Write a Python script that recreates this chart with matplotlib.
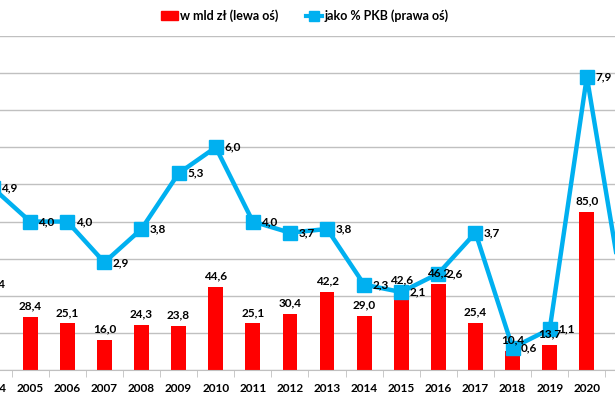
import numpy as np
import matplotlib
matplotlib.use("Agg")
import matplotlib.pyplot as plt
from matplotlib.lines import Line2D
from matplotlib.patches import Patch

years = ['2004', '2005', '2006', '2007', '2008', '2009', '2010', '2011', '2012',
         '2013', '2014', '2015', '2016', '2017', '2018', '2019', '2020', '2021']
mld_zl = [40.4, 28.4, 25.1, 16.0, 24.3, 23.8, 44.6, 25.1, 30.4,
          42.2, 29.0, 42.6, 46.2, 25.4, 10.4, 13.7, 85.0, np.nan]
pct_pkb = [4.9, 4.0, 4.0, 2.9, 3.8, 5.3, 6.0, 4.0, 3.7,
           3.8, 2.3, 2.1, 2.6, 3.7, 0.6, 1.1, 7.9, 1.9]

RED = '#FF0000'
BLUE = '#00B0F0'
GRID = '#C0C0C0'

plt.rcParams['font.family'] = ['Lato', 'DejaVu Sans']

def fmt(v):
    return f"{v:.1f}".replace('.', ',')

fig = plt.figure(figsize=(6.15, 3.93), dpi=100)
# chart is cropped: plot area spills over the left and right edges
ax = fig.add_axes([-25.5 / 615, 23 / 393, 668 / 615, 334 / 393])
x = np.arange(len(years))

ax.bar(x, mld_zl, width=0.4, color=RED, zorder=2)
ax.set_xlim(-0.5, len(years) - 0.5)
ax.set_ylim(0, 180)
ax.set_yticks(np.arange(0, 181, 20))
ax.yaxis.grid(True, color=GRID, lw=1)
ax.set_axisbelow(True)
for s in ['top', 'left', 'right']:
    ax.spines[s].set_visible(False)
ax.spines['bottom'].set_color(GRID)
ax.tick_params(axis='y', length=0, labelleft=False)
ax.set_xticks(x)
# last category label falls outside the crop
ax.set_xticklabels(years[:-1] + [''], fontsize=8.5, fontweight='bold')
ax.set_xticks(x[:-1] + 0.5, minor=True)
ax.tick_params(axis='x', which='major', length=0, pad=9)
ax.tick_params(axis='x', which='minor', length=5, color=GRID, direction='out')

ax2 = ax.twinx()
ax2.set_ylim(0, 9)
ax2.plot(x, pct_pkb, color=BLUE, lw=3.2, marker='s', markersize=9.5, zorder=3)
for s in ['top', 'left', 'right', 'bottom']:
    ax2.spines[s].set_visible(False)
ax2.tick_params(axis='y', length=0, labelright=False)
for xi, v in zip(x, pct_pkb):
    ax2.annotate(fmt(v), (xi, v), xytext=(6, 0), textcoords='offset points',
                 ha='left', va='center', fontsize=8.5, fontweight='bold', zorder=5)

# bar labels go on the top axes so they sit over the line
for xi, v in zip(x, mld_zl):
    if not np.isnan(v):
        ax2.annotate(fmt(v), (xi, v), xycoords=ax.transData, xytext=(0, 4),
                     textcoords='offset points', ha='center', va='bottom',
                     fontsize=8.5, fontweight='bold', zorder=6)

handles = [Patch(color=RED, label='w mld zł (lewa oś)'),
           Line2D([], [], color=BLUE, lw=3, marker='s', markersize=7,
                  label='jako % PKB (prawa oś)')]
fig.legend(handles=handles, loc='center', bbox_to_anchor=(305 / 615, 1 - 16 / 393),
           ncol=2, frameon=False, handlelength=1.3, handletextpad=0.2,
           columnspacing=2.2, prop={'weight': 'bold', 'size': 9})

fig.savefig('out.png', dpi=100)
